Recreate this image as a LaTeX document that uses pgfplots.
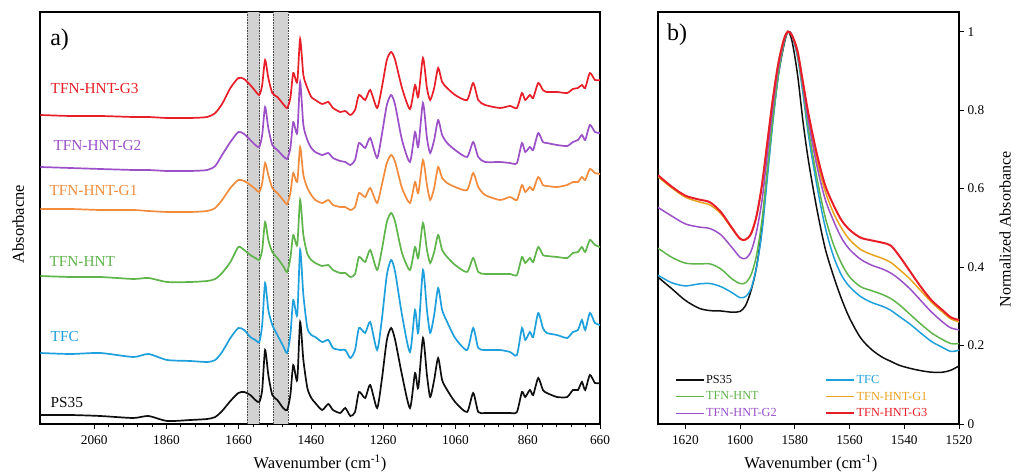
\documentclass[border=0pt]{standalone}
\usepackage{pgfplots}
\pgfplotsset{compat=1.18}
\usepackage{pgfplotstable}
\usepackage{fontspec}
\setmainfont{Liberation Serif}
\definecolor{cK}{RGB}{15,15,15}
\definecolor{cB}{RGB}{30,160,220}
\definecolor{cG}{RGB}{95,180,75}
\definecolor{cO}{RGB}{242,140,60}
\definecolor{cOb}{RGB}{232,162,28}
\definecolor{cP}{RGB}{155,80,200}
\definecolor{cR}{RGB}{232,30,40}

\pgfplotstableread{
wn k b g o p r
2209 9 71 148 215 257 309
2126 9 70 147 215 256 308
2043 8 71 147 214 255 308
1952 6 67 145 214 254 307
1910 8 70 146 213 254 307
1858 3 64 142 212 253 306
1794 4 63 142 212 253 306
1747 5 62 143 213 254 307
1725 7 64 145 216 258 311
1706 13 72 151 224 269 320
1683 23 86 162 236 282 336
1661 31 96 177 244 292 346
1645 32 94 174 243 290 345
1628 29 87 169 239 284 339
1614 24 84 166 235 279 333
1603 22 82 164 232 277 329
1595 34 99 174 241 289 339
1587 74 141 202 261 317 364
1578 49 114 184 249 296 346
1567 29 99 172 236 279 331
1553 24 89 166 231 274 327
1537 16 78 158 224 268 320
1526 14 71 152 220 265 316
1517 29 89 166 231 276 326
1509 59 124 189 251 302 351
1498 44 109 179 242 291 342
1490 102 174 224 277 342 385
1481 64 129 189 249 299 349
1470 36 96 170 236 284 336
1459 26 89 164 229 276 327
1448 21 87 161 224 272 324
1429 14 82 158 221 269 320
1412 20 84 159 224 271 322
1399 14 76 154 219 266 316
1379 11 74 151 217 263 312
1365 16 74 151 217 262 313
1351 8 66 147 214 259 309
1338 12 74 150 217 264 314
1327 32 96 167 231 281 329
1310 26 91 162 227 276 324
1296 39 102 174 236 286 334
1277 16 74 154 221 266 316
1264 44 104 174 239 289 336
1250 84 149 202 261 319 364
1238 96 164 211 269 329 372
1227 84 152 202 262 319 364
1208 49 109 171 236 284 336
1186 16 72 154 221 262 315
1172 51 114 177 242 292 339
1163 36 91 166 231 277 327
1150 86 154 201 264 321 366
1139 49 114 174 239 286 336
1130 27 91 161 224 271 324
1119 44 109 172 236 284 336
1108 66 136 189 257 304 356
1097 44 114 174 246 289 342
1083 34 102 167 241 281 336
1061 22 86 159 237 274 329
1028 12 74 152 234 267 324
1011 31 96 166 251 282 341
997 12 76 152 237 267 324
978 11 74 150 229 262 319
937 11 74 150 224 262 316
909 11 72 150 227 261 318
890 12 69 149 224 261 316
876 32 96 167 239 281 331
867 27 84 161 232 272 324
854 34 92 166 237 277 329
845 29 87 162 234 274 326
831 46 111 177 247 291 341
818 34 96 169 239 282 334
807 31 91 168 238 281 332
779 27 89 167 237 279 332
751 27 86 166 239 278 331
735 34 92 171 242 282 335
721 34 94 172 242 284 336
710 42 104 177 247 289 339
701 34 94 172 244 284 336
688 49 111 184 255 299 351
674 41 101 179 251 292 344
660 41 99 177 250 291 344
}\specA

\pgfplotstableread{
wn k b g o p r
1630 0.374 0.379 0.448 0.630 0.552 0.634
1625 0.345 0.360 0.425 0.602 0.530 0.605
1620 0.315 0.352 0.410 0.578 0.510 0.582
1615 0.295 0.357 0.408 0.566 0.502 0.572
1611 0.289 0.358 0.408 0.558 0.498 0.565
1607 0.288 0.350 0.395 0.536 0.482 0.540
1603 0.285 0.335 0.370 0.498 0.450 0.500
1600 0.287 0.322 0.358 0.472 0.425 0.472
1598 0.302 0.325 0.360 0.470 0.422 0.470
1596 0.340 0.345 0.380 0.485 0.440 0.485
1594 0.400 0.400 0.430 0.530 0.490 0.530
1592 0.500 0.490 0.520 0.610 0.570 0.610
1590 0.645 0.630 0.650 0.720 0.690 0.720
1588 0.780 0.770 0.780 0.830 0.810 0.830
1586 0.890 0.890 0.895 0.920 0.910 0.920
1584 0.965 0.970 0.970 0.980 0.975 0.980
1582.5 1.000 1.000 1.000 1.000 1.000 1.000
1581 0.975 0.990 0.990 0.990 0.990 0.990
1579 0.890 0.935 0.940 0.950 0.945 0.950
1577 0.770 0.840 0.850 0.865 0.860 0.870
1575 0.670 0.735 0.750 0.780 0.770 0.790
1572 0.550 0.610 0.630 0.675 0.660 0.690
1569 0.450 0.505 0.530 0.595 0.575 0.610
1566 0.380 0.430 0.460 0.540 0.520 0.560
1563 0.320 0.380 0.410 0.500 0.475 0.520
1560 0.270 0.350 0.375 0.470 0.445 0.495
1556 0.220 0.325 0.350 0.445 0.420 0.475
1552 0.190 0.310 0.340 0.432 0.405 0.468
1548 0.170 0.300 0.330 0.422 0.395 0.462
1545 0.160 0.290 0.320 0.412 0.385 0.455
1542 0.150 0.275 0.305 0.395 0.370 0.430
1538 0.142 0.255 0.280 0.370 0.345 0.390
1534 0.136 0.232 0.255 0.340 0.315 0.350
1530 0.132 0.210 0.232 0.310 0.285 0.315
1526 0.132 0.195 0.215 0.285 0.260 0.290
1523 0.137 0.185 0.205 0.268 0.245 0.272
1520 0.148 0.188 0.205 0.260 0.240 0.265
}\specB

\begin{document}
\begin{tikzpicture}
\useasboundingbox (0,0) rectangle (1016pt,473pt);
\pgfplotsset{
  myaxis/.style={
    scale only axis,
    axis line style={line width=1.2pt, black},
    every tick/.style={black, line width=0.9pt},
    major tick length=5pt,
    minor tick length=3pt,
    tick align=outside,
    tick label style={font=\fontsize{13.3}{15}\selectfont},
    xticklabel style={yshift=-3pt},
    /pgf/number format/assume math mode=true,
    clip=true,
  }
}
% ---------------- Panel a ----------------
\begin{axis}[myaxis,
  at={(40pt,49pt)}, anchor=south west,
  width=560pt, height=412pt,
  x dir=reverse,
  xmin=660, xmax=2210, ymin=0, ymax=412,
  xtick={660,860,...,2060},
  minor x tick num=4,
  xtick pos=left,
  ytick=\empty,
  /pgf/number format/1000 sep={},
  xlabel={Wavenumber (cm\textsuperscript{-1})},
  ylabel={Absorbacne},
  every axis x label/.style={at={(axis description cs:0.5,-0.095)}, anchor=center, font=\fontsize{16.5}{19}\selectfont},
  every axis y label/.style={at={(axis description cs:-0.039,0.485)}, anchor=center, rotate=90, font=\fontsize{16.5}{19}\selectfont},
]
\addplot[fill=gray!35, draw=none] coordinates {(1637,0) (1637,412) (1602,412) (1602,0)} -- cycle;
\addplot[fill=gray!35, draw=none] coordinates {(1565,0) (1565,412) (1523,412) (1523,0)} -- cycle;
\addplot[gray!60!black, densely dotted, line width=0.6pt] coordinates {(1637,0) (1637,412)};
\addplot[gray!60!black, densely dotted, line width=0.6pt] coordinates {(1602,0) (1602,412)};
\addplot[gray!60!black, densely dotted, line width=0.6pt] coordinates {(1565,0) (1565,412)};
\addplot[gray!60!black, densely dotted, line width=0.6pt] coordinates {(1523,0) (1523,412)};
\addplot[cK, line width=1.7pt, smooth, tension=0.4] table[x=wn, y=k] {\specA};
\addplot[cB, line width=1.7pt, smooth, tension=0.4] table[x=wn, y=b] {\specA};
\addplot[cG, line width=1.7pt, smooth, tension=0.4] table[x=wn, y=g] {\specA};
\addplot[cO, line width=1.7pt, smooth, tension=0.4] table[x=wn, y=o] {\specA};
\addplot[cP, line width=1.7pt, smooth, tension=0.4] table[x=wn, y=p] {\specA};
\addplot[cR, line width=1.7pt, smooth, tension=0.4] table[x=wn, y=r] {\specA};
\begin{scope}[every node/.style={anchor=west, inner sep=0pt, font=\fontsize{15.3}{17}\selectfont}]
\node[text=cR] at (axis cs:2181,335) {TFN-HNT-G3};
\node[text=cP] at (axis cs:2173,278) {TFN-HNT-G2};
\node[text=cO] at (axis cs:2184,233) {TFN-HNT-G1};
\node[text=cG] at (axis cs:2184,163) {TFN-HNT};
\node[text=cB] at (axis cs:2181,87) {TFC};
\node[text=cK] at (axis cs:2181,21) {PS35};
\end{scope}
\node[anchor=west, inner sep=0pt, font=\fontsize{24}{26}\selectfont] at (rel axis cs:0.018,0.932) {a)};
\end{axis}
% ---------------- Panel b ----------------
\begin{axis}[myaxis,
  at={(658pt,49pt)}, anchor=south west,
  width=301pt, height=412pt,
  x dir=reverse,
  xmin=1520, xmax=1630, ymin=0, ymax=1.05,
  xtick={1520,1540,...,1620},
  ytick={0,0.2,...,1},
  xtick pos=left,
  ytick pos=right,
  yticklabel pos=right,
  /pgf/number format/1000 sep={},
  xlabel={Wavenumber (cm\textsuperscript{-1})},
  ylabel={Normalized Absorbance},
  every axis x label/.style={at={(axis description cs:0.508,-0.095)}, anchor=center, font=\fontsize{16.5}{19}\selectfont},
  every axis y label/.style={at={(axis description cs:1.153,0.473)}, anchor=center, rotate=90, font=\fontsize{16}{18}\selectfont, inner sep=0pt},
  legend columns=2,
  legend cell align=left,
  legend style={draw=none, fill=none, at={(rel axis cs:0.056,0.010)}, anchor=south west,
    font=\fontsize{12.3}{14}\selectfont, inner sep=0pt, row sep=4pt,
    /tikz/column 2/.style={column sep=47pt},
    nodes={inner sep=1.5pt}},
  legend image code/.code={\draw[#1] (0pt,0pt) -- (28pt,0pt);},
]
\addplot[cK, line width=1.5pt, smooth, tension=0.5] table[x=wn, y=k] {\specB};
\addlegendentry[text=cK]{PS35}
\addplot[cB, line width=1.5pt, smooth, tension=0.5] table[x=wn, y=b] {\specB};
\addlegendentry[text=cB]{TFC}
\addplot[cG, line width=1.5pt, smooth, tension=0.5] table[x=wn, y=g] {\specB};
\addlegendentry[text=cG]{TFN-HNT}
\addplot[cOb, line width=1.5pt, smooth, tension=0.5] table[x=wn, y=o] {\specB};
\addlegendentry[text=cOb]{TFN-HNT-G1}
\addplot[cP, line width=1.5pt, smooth, tension=0.5] table[x=wn, y=p] {\specB};
\addlegendentry[text=cP]{TFN-HNT-G2}
\addplot[cR, line width=2pt, smooth, tension=0.5] table[x=wn, y=r] {\specB};
\addlegendentry[text=cR]{TFN-HNT-G3}
\node[anchor=west, inner sep=0pt, font=\fontsize{24}{26}\selectfont] at (rel axis cs:0.03,0.944) {b)};
\end{axis}
\end{tikzpicture}
\end{document}
